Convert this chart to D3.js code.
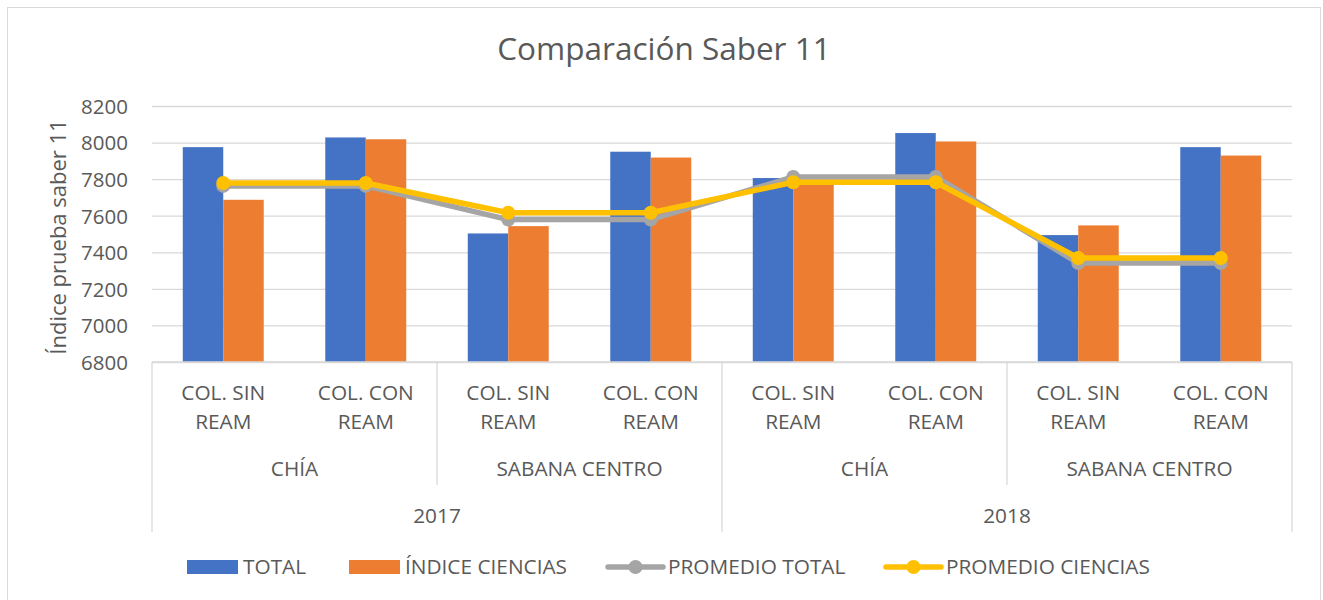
<!DOCTYPE html>
<html>
<head>
<meta charset="utf-8">
<script src="https://cdn.jsdelivr.net/npm/d3@7"></script>
<style>
  body { margin: 0; background: #ffffff; }
  text { font-family: "Open Sans", "Liberation Sans", sans-serif; fill: #595959; }
</style>
</head>
<body>
<script>
// Data
var categories = ["COL. SIN|REAM", "COL. CON|REAM", "COL. SIN|REAM", "COL. CON|REAM",
                  "COL. SIN|REAM", "COL. CON|REAM", "COL. SIN|REAM", "COL. CON|REAM"];
var groups = ["CHÍA", "SABANA CENTRO", "CHÍA", "SABANA CENTRO"];
var years = ["2017", "2018"];
var total = [7975, 8028, 7503, 7950, 7806, 8052, 7494, 7975];
var indiceCiencias = [7687, 8018, 7543, 7918, 7790, 8006, 7547, 7929];
var promedioTotal = [7763, 7763, 7579, 7579, 7812, 7812, 7341, 7341];
var promedioCiencias = [7779, 7779, 7616, 7616, 7783, 7783, 7369, 7369];
var yTicks = [6800, 7000, 7200, 7400, 7600, 7800, 8000, 8200];

var seriesNames = ["TOTAL", "ÍNDICE CIENCIAS", "PROMEDIO TOTAL", "PROMEDIO CIENCIAS"];
var colors = ["#4472c4", "#ed7d31", "#a5a5a5", "#ffc000"];

// Size of the picture and of the plot area
var width = 1323;
var height = 600;
var plotLeft = 152, plotRight = 1292, plotTop = 106, plotBottom = 362;
var labelSize = "20.8px";

var svg = d3.select("body")
            .append("svg")
            .attr("width", width)
            .attr("height", height);

// Chart border
svg.append("rect")
   .attr("x", 7.5).attr("y", 7.5)
   .attr("width", 1313).attr("height", 620)
   .attr("fill", "none")
   .attr("stroke", "#d9d9d9")
   .attr("stroke-width", 1);

// Scales
var x0 = d3.scaleBand()
           .domain(d3.range(categories.length))
           .range([plotLeft, plotRight]);

var x1 = d3.scaleBand()
           .domain([0, 1])
           .range([0, x0.bandwidth()])
           .paddingOuter(0.76);

var y = d3.scaleLinear()
          .domain([6800, 8200])
          .range([plotBottom, plotTop]);

// Title
svg.append("text")
   .attr("x", 664)
   .attr("y", 60)
   .attr("text-anchor", "middle")
   .style("font-size", "31.5px")
   .text("Comparación Saber 11");

// Gridlines and y axis
var yAxis = d3.axisLeft(y)
              .tickValues(yTicks)
              .tickSize(-(plotRight - plotLeft))
              .tickPadding(24)
              .tickFormat(d3.format("d"));

var gy = svg.append("g")
            .attr("transform", "translate(" + plotLeft + ",0)")
            .call(yAxis);
gy.select(".domain").remove();
gy.selectAll(".tick line")
  .attr("stroke", "#d9d9d9")
  .attr("stroke-width", 1.3);
gy.selectAll(".tick text")
  .attr("dy", "0.36em")
  .style("font-size", "20.5px")
  .style("font-family", "'Open Sans', sans-serif")
  .style("fill", "#595959");

// Y axis title
svg.append("text")
   .attr("transform", "translate(66,237) rotate(-90)")
   .attr("text-anchor", "middle")
   .style("font-size", "22px")
   .text("Índice prueba saber 11");

// Bars
var barData = [total, indiceCiencias];
barData.forEach(function(values, s) {
  svg.append("g")
     .selectAll("rect")
     .data(values)
     .enter()
     .append("rect")
     .attr("x", function(d, i) { return x0(i) + x1(s); })
     .attr("y", function(d) { return y(d); })
     .attr("width", x1.bandwidth())
     .attr("height", function(d) { return y(6800) - y(d); })
     .attr("fill", colors[s]);
});

// Category axis line
svg.append("line")
   .attr("x1", plotLeft).attr("x2", plotRight)
   .attr("y1", plotBottom).attr("y2", plotBottom)
   .attr("stroke", "#d9d9d9")
   .attr("stroke-width", 1.3);

// Lines with markers
var line = d3.line()
             .x(function(d, i) { return x0(i) + x0.bandwidth() / 2; })
             .y(function(d) { return y(d); });

[promedioTotal, promedioCiencias].forEach(function(values, k) {
  var g = svg.append("g");
  g.append("path")
   .datum(values)
   .attr("d", line)
   .attr("fill", "none")
   .attr("stroke", colors[k + 2])
   .attr("stroke-width", 5.5)
   .attr("stroke-linejoin", "round");
  g.selectAll("circle")
   .data(values)
   .enter()
   .append("circle")
   .attr("cx", function(d, i) { return x0(i) + x0.bandwidth() / 2; })
   .attr("cy", function(d) { return y(d); })
   .attr("r", 7)
   .attr("fill", colors[k + 2]);
});

// Multi-level category labels
categories.forEach(function(c, i) {
  var parts = c.split("|");
  var t = svg.append("text")
             .attr("text-anchor", "middle")
             .style("font-size", labelSize);
  parts.forEach(function(p, j) {
    t.append("tspan")
     .attr("x", x0(i) + x0.bandwidth() / 2)
     .attr("y", 400 + j * 29)
     .text(p);
  });
});

var groupWidth = (plotRight - plotLeft) / groups.length;
groups.forEach(function(gname, i) {
  svg.append("text")
     .attr("x", plotLeft + groupWidth * (i + 0.5))
     .attr("y", 476)
     .attr("text-anchor", "middle")
     .style("font-size", labelSize)
     .text(gname);
});

var yearWidth = (plotRight - plotLeft) / years.length;
years.forEach(function(yr, i) {
  svg.append("text")
     .attr("x", plotLeft + yearWidth * (i + 0.5))
     .attr("y", 523)
     .attr("text-anchor", "middle")
     .style("font-size", labelSize)
     .text(yr);
});

// Separator lines between groups and years
d3.range(groups.length + 1).forEach(function(i) {
  var xx = plotLeft + groupWidth * i;
  var isYear = i % 2 === 0;
  svg.append("line")
     .attr("x1", xx).attr("x2", xx)
     .attr("y1", plotBottom).attr("y2", isYear ? 532 : 485)
     .attr("stroke", "#d9d9d9")
     .attr("stroke-width", 1.3);
});

// Legend
var legendX = [187, 349, 608, 886];
var legendY = 567;
seriesNames.forEach(function(name, i) {
  var g = svg.append("g");
  if (i < 2) {
    g.append("rect")
     .attr("x", legendX[i]).attr("y", legendY - 7)
     .attr("width", 51).attr("height", 14)
     .attr("fill", colors[i]);
    g.append("text")
     .attr("x", legendX[i] + 56)
     .attr("y", legendY + 7)
     .style("font-size", labelSize)
     .text(name);
  } else {
    g.append("line")
     .attr("x1", legendX[i]).attr("x2", legendX[i] + 55)
     .attr("y1", legendY).attr("y2", legendY)
     .attr("stroke", colors[i])
     .attr("stroke-width", 5.5)
     .attr("stroke-linecap", "round");
    g.append("circle")
     .attr("cx", legendX[i] + 27.5).attr("cy", legendY)
     .attr("r", 7)
     .attr("fill", colors[i]);
    g.append("text")
     .attr("x", legendX[i] + 60)
     .attr("y", legendY + 7)
     .style("font-size", labelSize)
     .text(name);
  }
});
</script>
</body>
</html>
